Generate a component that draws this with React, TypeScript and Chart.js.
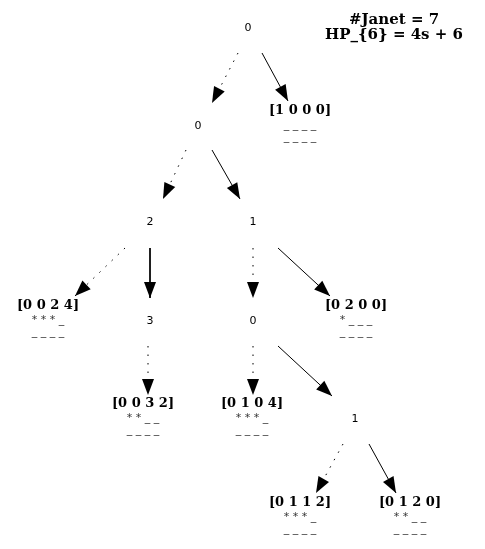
import { useEffect, useRef } from "react";
import { Chart, registerables } from "chart.js";

Chart.register(...registerables);

// node positions (graph coordinates, y downwards)
const nodeX = [248, 198, 300, 150, 253, 48, 150, 253, 356, 143, 252, 355, 300, 410];
const nodeY = [28, 126, 111, 222, 222, 306, 321, 321, 306, 404, 404, 419, 503, 503];
const nodeText = ["0", "0", "[1 0 0 0]", "2", "1", "[0 0 2 4]", "3", "0", "[0 2 0 0]", "[0 0 3 2]", "[0 1 0 4]", "1", "[0 1 1 2]", "[0 1 2 0]"];
const nodeStars = ["", "", "", "", "", "* * *", "", "", "*", "* *", "* * *", "", "* * *", "* *"];
const nodeBars = ["", "", "_ _ _ _", "", "", "_", "", "", "_ _ _", "_ _", "_", "", "_", "_ _"];
const isLeaf = [false, false, true, false, false, true, false, false, true, true, true, false, true, true];

// edges: [from x, from y, to x, to y, dotted]
const edgeFrom = [[238, 53], [262, 53], [186, 150], [212, 150], [125, 248], [150, 248], [253, 248], [278, 248], [148, 346], [253, 346], [278, 346], [343, 444], [369, 444]];
const edgeTo = [[212, 103], [288, 101], [163, 199], [240, 199], [75, 296], [150, 298], [253, 298], [330, 296], [148, 395], [253, 395], [332, 396], [316, 493], [396, 493]];
const edgeDotted = [true, false, true, false, true, false, true, false, true, true, false, true, false];

const titleLines = ["#Janet = 7", "HP_{6} = 4s + 6"];

export default function App() {
  const canvasRef = useRef<HTMLCanvasElement>(null);
  const chartRef = useRef<Chart | null>(null);

  useEffect(() => {
    document.body.style.margin = "0";
    if (!canvasRef.current) return;
    const ctx = canvasRef.current.getContext("2d");
    if (!ctx) return;
    chartRef.current?.destroy();

    const edgeSets = edgeFrom.map((f, i) => ({
      type: "line" as const,
      data: [
        { x: f[0], y: f[1] },
        { x: edgeTo[i][0], y: edgeTo[i][1] },
      ],
      borderColor: "#000",
      borderWidth: 1,
      borderDash: edgeDotted[i] ? [1.5, 7] : [],
      pointRadius: 0,
      showLine: true,
    }));

    const treePlugin = {
      id: "tree",
      afterDatasetsDraw(chart: Chart) {
        const c = chart.ctx;
        const sx = chart.scales.x;
        const sy = chart.scales.y;
        c.save();
        // arrowheads
        edgeFrom.forEach((f, i) => {
          const x0 = sx.getPixelForValue(f[0]);
          const y0 = sy.getPixelForValue(f[1]);
          const x1 = sx.getPixelForValue(edgeTo[i][0]);
          const y1 = sy.getPixelForValue(edgeTo[i][1]);
          const a = Math.atan2(y1 - y0, x1 - x0);
          const len = 16;
          const w = 6;
          c.fillStyle = "#000";
          c.beginPath();
          c.moveTo(x1, y1);
          c.lineTo(x1 - len * Math.cos(a) + w * Math.sin(a), y1 - len * Math.sin(a) - w * Math.cos(a));
          c.lineTo(x1 - len * Math.cos(a) - w * Math.sin(a), y1 - len * Math.sin(a) + w * Math.cos(a));
          c.closePath();
          c.fill();
        });
        // node labels
        c.textAlign = "center";
        c.textBaseline = "middle";
        nodeText.forEach((t, i) => {
          const x = sx.getPixelForValue(nodeX[i]);
          const y = sy.getPixelForValue(nodeY[i]);
          if (isLeaf[i]) {
            c.fillStyle = "#000";
            c.font = "bold 13px 'DejaVu Serif'";
            c.fillText(t, x, y);
            c.fillStyle = "#333";
            c.font = "11px 'DejaVu Sans'";
            const stars = nodeStars[i];
            const bars = nodeBars[i];
            const full = (stars ? stars + " " : "") + bars;
            const fw = c.measureText(full).width;
            const left = x - fw / 2;
            c.textAlign = "left";
            if (stars) c.fillText(stars, left, y + 14);
            const sw = stars ? c.measureText(stars + " ").width : 0;
            c.fillText(bars, left + sw, y + 14);
            c.textAlign = "center";
            c.fillText("_ _ _ _", x, y + 26);
          } else {
            c.fillStyle = "#000";
            c.font = "11px 'DejaVu Sans'";
            c.fillText(t, x, y);
          }
        });
        // title
        c.fillStyle = "#000";
        c.font = "bold 15px 'DejaVu Serif'";
        titleLines.forEach((t, i) => {
          c.fillText(t, sx.getPixelForValue(394), sy.getPixelForValue(20 + i * 15));
        });
        c.restore();
      },
    };

    chartRef.current = new Chart(ctx, {
      type: "scatter",
      data: {
        datasets: [
          {
            data: nodeX.map((x, i) => ({ x, y: nodeY[i] })),
            pointRadius: 0,
          },
          ...edgeSets,
        ],
      },
      options: {
        animation: false,
        responsive: false,
        layout: { padding: 0 },
        scales: {
          x: { type: "linear", min: 0, max: 485, display: false },
          y: { type: "linear", min: 0, max: 549, reverse: true, display: false },
        },
        plugins: { legend: { display: false }, tooltip: { enabled: false } },
      },
      plugins: [treePlugin],
    });

    return () => {
      chartRef.current?.destroy();
      chartRef.current = null;
    };
  }, []);

  return (
    <div style={{ width: 485, height: 549, background: "#fff" }}>
      <canvas ref={canvasRef} width={485} height={549}></canvas>
    </div>
  );
}
